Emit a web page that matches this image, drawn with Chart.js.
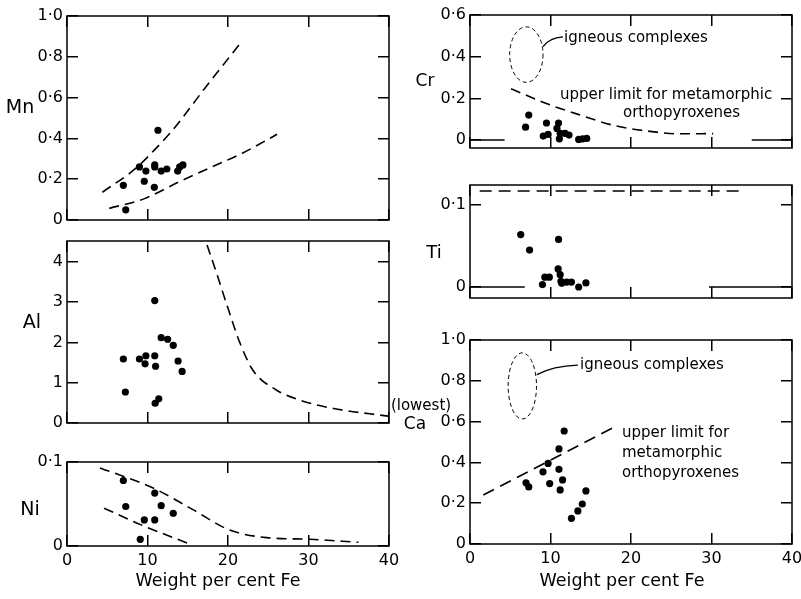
<!DOCTYPE html>
<html><head><meta charset="utf-8">
<script src="https://cdn.jsdelivr.net/npm/chart.js@4.4.1/dist/chart.umd.min.js"></script>
<style>
html,body{margin:0;padding:0;background:#fff;width:801px;height:599px;overflow:hidden;position:relative}
canvas{position:absolute}
</style></head><body>
<canvas id="cMn"></canvas>
<canvas id="cAl"></canvas>
<canvas id="cNi"></canvas>
<canvas id="cCr"></canvas>
<canvas id="cTi"></canvas>
<canvas id="cCa"></canvas>
<script>
// ---------- data ----------
const xTicks = [0, 10, 20, 30, 40];

const mnTicks = [0, 0.2, 0.4, 0.6, 0.8, 1.0];
const mnX = [7.0, 7.3, 9.0, 9.6, 9.8, 10.9, 10.9, 10.85, 11.3, 11.7, 12.4, 13.75, 14.0, 14.4];
const mnY = [0.17, 0.05, 0.26, 0.19, 0.24, 0.27, 0.26, 0.16, 0.44, 0.24, 0.25, 0.24, 0.26, 0.27];
const mnUpperX = [4.4, 8.6, 10.9, 13.0, 15.1, 17.1, 19.2, 21.5];
const mnUpperY = [0.136, 0.255, 0.345, 0.435, 0.54, 0.645, 0.75, 0.865];
const mnLowerX = [5.25, 9.7, 13.8, 18.0, 21.9, 26.1];
const mnLowerY = [0.057, 0.106, 0.185, 0.26, 0.33, 0.42];

const alTicks = [0, 1, 2, 3, 4];
const alX = [7.0, 7.25, 9.0, 9.8, 9.7, 10.9, 10.9, 11.0, 10.95, 11.4, 11.7, 12.5, 13.2, 13.8, 14.3];
const alY = [1.59, 0.77, 1.59, 1.67, 1.47, 3.04, 1.67, 1.41, 0.49, 0.6, 2.12, 2.08, 1.93, 1.54, 1.28];
const alCurveX = [17.4, 18.6, 19.8, 21.5, 23.1, 26.0, 28.9, 33.1, 39.9];
const alCurveY = [4.42, 3.71, 2.97, 1.98, 1.31, 0.82, 0.57, 0.36, 0.17];

const niTicks = [0, 0.1];
const niX = [7.0, 7.3, 9.1, 9.6, 10.9, 10.9, 11.7, 13.2];
const niY = [0.078, 0.047, 0.008, 0.031, 0.063, 0.031, 0.048, 0.039];
const niUpperX = [4.1, 10.7, 15.7, 20.2, 24.8, 30.2, 36.2];
const niUpperY = [0.093, 0.069, 0.043, 0.019, 0.010, 0.008, 0.0044];
const niLowerX = [4.6, 9.5, 15.1];
const niLowerY = [0.045, 0.024, 0.003];

const crTicks = [0, 0.2, 0.4, 0.6];
const crX = [6.9, 7.3, 9.1, 9.5, 9.7, 10.8, 11.0, 11.1, 11.2, 11.8, 12.3, 13.5, 14.0, 14.5];
const crY = [0.062, 0.12, 0.019, 0.082, 0.027, 0.056, 0.082, 0.006, 0.032, 0.032, 0.024, 0.003, 0.006, 0.008];
const crLimitX = [5.1, 9.5, 13.7, 17.8, 21.9, 26.1, 30.2];
const crLimitY = [0.246, 0.175, 0.12, 0.071, 0.044, 0.03, 0.031];
const crBaseLeftX = [0, 4.3];
const crBaseRightX = [35, 40];
const crBaseY = [0, 0];
const crIgneous = { x: 7.0, y: 0.41, rx: 2.07, ry: 0.133 };
const crLeader = [[9.07, 0.448], [9.8, 0.49], [11.55, 0.495]];

const tiTicks = [0, 0.1];
const tiX = [6.3, 7.4, 11.0, 10.95, 9.0, 9.3, 9.85, 11.2, 11.3, 11.4, 12.0, 12.6, 13.5, 14.4];
const tiY = [0.064, 0.045, 0.058, 0.022, 0.003, 0.012, 0.012, 0.015, 0.007, 0.0045, 0.006, 0.006, 0.0, 0.005];
const tiLimitX = [1.2, 34];
const tiLimitY = [0.117, 0.117];
const tiBaseLeftX = [0, 6.8];
const tiBaseRightX = [29.7, 40];
const tiBaseY = [0, 0];

const caTicks = [0, 0.2, 0.4, 0.6, 0.8, 1.0];
const caX = [6.96, 7.3, 9.07, 9.7, 9.9, 11.05, 11.05, 11.2, 11.5, 11.7, 12.6, 13.4, 13.95, 14.4];
const caY = [0.30, 0.28, 0.354, 0.395, 0.296, 0.466, 0.366, 0.265, 0.314, 0.554, 0.126, 0.162, 0.196, 0.26];
const caLimitX = [1.65, 18.0];
const caLimitY = [0.24, 0.575];
const caIgneous = { x: 6.5, y: 0.775, rx: 1.76, ry: 0.162 };
const caLeader = [[8.3, 0.83], [10.3, 0.873], [13.4, 0.877]];

// ---------- helpers ----------
const FONT = '"DejaVu Sans", "Liberation Sans", sans-serif';
const pts = (xs, ys) => xs.map((x, i) => ({ x: x, y: ys[i] }));
const fmt = v => (v === 0 ? '0' : v.toFixed(1).replace('.', '\u00b7'));
const fmtInt = v => String(v);
const TICK_IN = -11;

function dots(xs, ys) {
  return { data: pts(xs, ys), showLine: false, pointRadius: 3.6, pointHoverRadius: 3.6,
    backgroundColor: '#000', borderWidth: 0, pointStyle: 'circle' };
}
function dashed(xs, ys, dash) {
  return { data: pts(xs, ys), showLine: true, pointRadius: 0, borderColor: '#000',
    borderWidth: 1.6, borderDash: dash || [10, 6], fill: false, tension: 0.4,
    cubicInterpolationMode: 'monotone' };
}
function solid(xs, ys) {
  return { data: pts(xs, ys), showLine: true, pointRadius: 0, borderColor: '#000',
    borderWidth: 1.5, fill: false, tension: 0 };
}
function inwardGrid() {
  return { display: true, drawOnChartArea: false, drawTicks: true, tickLength: TICK_IN,
    color: '#000', tickColor: '#000', lineWidth: 1.5, tickWidth: 1.5 };
}

const framePlugin = {
  id: 'frame',
  afterDraw(chart, args, opts) {
    const ctx = chart.ctx;
    const xs = chart.scales.x, ys = chart.scales.y;
    const x0 = xs.getPixelForValue(xs.min), x1 = xs.getPixelForValue(xs.max);
    const y0 = ys.getPixelForValue(ys.max), y1 = ys.getPixelForValue(ys.min);
    ctx.save();
    ctx.strokeStyle = '#000'; ctx.fillStyle = '#000'; ctx.lineWidth = 1.5; ctx.setLineDash([]);
    ctx.beginPath();
    ctx.moveTo(x0, y0); ctx.lineTo(x1, y0); ctx.lineTo(x1, y1); ctx.lineTo(x0, y1); ctx.closePath();
    ctx.stroke();
    if (opts.ellipse) {
      const e = opts.ellipse;
      const cx = xs.getPixelForValue(e.x), cy = ys.getPixelForValue(e.y);
      const rx = Math.abs(xs.getPixelForValue(e.x + e.rx) - cx);
      const ry = Math.abs(ys.getPixelForValue(e.y + e.ry) - cy);
      ctx.lineWidth = 1;
      ctx.setLineDash([4, 3]);
      ctx.beginPath();
      ctx.ellipse(cx, cy, rx, ry, 0, 0, Math.PI * 2);
      ctx.stroke();
      ctx.setLineDash([]);
    }
    if (opts.leader) {
      const q = opts.leader.map(p => [xs.getPixelForValue(p[0]), ys.getPixelForValue(p[1])]);
      ctx.lineWidth = 1.4;
      ctx.beginPath();
      ctx.moveTo(q[0][0], q[0][1]);
      ctx.quadraticCurveTo(q[1][0], q[1][1], q[2][0], q[2][1]);
      ctx.stroke();
    }
    const ox = opts.ox || 0, oy = opts.oy || 0;
    (opts.texts || []).forEach(t => {
      ctx.font = (t.size || 15) + 'px ' + FONT;
      ctx.fillStyle = '#000';
      ctx.textAlign = t.align || 'left';
      ctx.textBaseline = 'middle';
      ctx.fillText(t.t, t.x - ox, t.y - oy);
    });
    ctx.restore();
  }
};
Chart.register(framePlugin);

// box: canvas rectangle on the page; area: plot rectangle on the page
function panel(id, box, area, yMin, yMax, yTicks, yFmt, datasets, showX, extra) {
  const cv = document.getElementById(id);
  cv.width = box.w; cv.height = box.h;
  cv.style.left = box.x + 'px'; cv.style.top = box.y + 'px';
  cv.style.width = box.w + 'px'; cv.style.height = box.h + 'px';
  const tickFont = { family: FONT, size: 16 };
  const ex = Object.assign({ ox: box.x, oy: box.y }, extra || {});
  const setX = s => { s.ticks = xTicks.map(v => ({ value: v })); };
  const setY = s => { s.ticks = yTicks.map(v => ({ value: v })); };
  return new Chart(cv, {
    type: 'scatter',
    data: { datasets: datasets },
    options: {
      responsive: false, animation: false, events: [],
      layout: { padding: { left: 0, top: area.t - box.y, right: box.x + box.w - area.r,
        bottom: showX ? box.y + box.h - area.b - 24 : box.y + box.h - area.b } },
      plugins: {
        legend: { display: false }, tooltip: { enabled: false },
        frame: ex
      },
      scales: {
        x: {
          type: 'linear', position: 'bottom', min: 0, max: 40, display: true,
          afterBuildTicks: setX,
          ticks: { display: showX, font: tickFont, color: '#000', padding: 5 - TICK_IN, maxRotation: 0, autoSkip: false, callback: fmtInt },
          grid: inwardGrid(), border: { display: false },
          afterFit: s => { s.height = showX ? 24 : 0; s.paddingLeft = 0; s.paddingRight = 0; }
        },
        x2: {
          type: 'linear', position: 'top', min: 0, max: 40, display: true,
          afterBuildTicks: setX,
          ticks: { display: false },
          grid: inwardGrid(), border: { display: false },
          afterFit: s => { s.height = 0; s.paddingLeft = 0; s.paddingRight = 0; }
        },
        y: {
          type: 'linear', position: 'left', min: yMin, max: yMax,
          afterBuildTicks: setY,
          ticks: { font: tickFont, color: '#000', padding: 4 - TICK_IN, callback: yFmt, autoSkip: false },
          grid: inwardGrid(), border: { display: false },
          afterFit: s => { s.width = area.l - box.x; s.paddingTop = 0; s.paddingBottom = 0; }
        },
        y2: {
          type: 'linear', position: 'right', min: yMin, max: yMax,
          afterBuildTicks: setY,
          ticks: { display: false },
          grid: inwardGrid(), border: { display: false },
          afterFit: s => { s.width = 0; s.paddingTop = 0; s.paddingBottom = 0; }
        }
      }
    }
  });
}

const LEFT = { l: 67, r: 389 };
const RIGHT = { l: 470, r: 792 };

panel('cMn', { x: 0, y: 0, w: 400, h: 230 }, { l: LEFT.l, r: LEFT.r, t: 16, b: 220 }, 0, 1.0, mnTicks, fmt,
  [dots(mnX, mnY), dashed(mnUpperX, mnUpperY), dashed(mnLowerX, mnLowerY)], false,
  { texts: [{ t: 'Mn', x: 20, y: 108, size: 19, align: 'center' }] });

panel('cAl', { x: 0, y: 230, w: 400, h: 202 }, { l: LEFT.l, r: LEFT.r, t: 241, b: 423 }, 0, 4.52, alTicks, fmtInt,
  [dots(alX, alY), dashed(alCurveX, alCurveY)], false,
  { texts: [{ t: 'Al', x: 32, y: 323, size: 19, align: 'center' }] });

panel('cNi', { x: 0, y: 440, w: 400, h: 159 }, { l: LEFT.l, r: LEFT.r, t: 462, b: 546 }, 0, 0.1, niTicks, fmt,
  [dots(niX, niY), dashed(niUpperX, niUpperY), dashed(niLowerX, niLowerY)], true,
  { texts: [{ t: 'Ni', x: 30, y: 510, size: 19, align: 'center' },
            { t: 'Weight per cent Fe', x: 218, y: 581, size: 17.5, align: 'center' }] });

panel('cCr', { x: 385, y: 0, w: 416, h: 160 }, { l: RIGHT.l, r: RIGHT.r, t: 15, b: 148 }, -0.038, 0.6, crTicks, fmt,
  [dots(crX, crY), dashed(crLimitX, crLimitY),
   solid(crBaseLeftX, crBaseY), solid(crBaseRightX, crBaseY)], false,
  { ellipse: crIgneous, leader: crLeader,
    texts: [{ t: 'Cr', x: 425, y: 82, size: 17, align: 'center' },
            { t: 'igneous complexes', x: 564, y: 38, size: 15 },
            { t: 'upper limit for metamorphic', x: 560, y: 95, size: 15 },
            { t: 'orthopyroxenes', x: 623, y: 113, size: 15 }] });

panel('cTi', { x: 385, y: 170, w: 416, h: 136 }, { l: RIGHT.l, r: RIGHT.r, t: 185, b: 298 }, -0.0134, 0.1244, tiTicks, fmt,
  [dots(tiX, tiY), dashed(tiLimitX, tiLimitY, [12, 7]),
   solid(tiBaseLeftX, tiBaseY), solid(tiBaseRightX, tiBaseY)], false,
  { texts: [{ t: 'Ti', x: 434, y: 253, size: 18, align: 'center' }] });

panel('cCa', { x: 385, y: 325, w: 416, h: 274 }, { l: RIGHT.l, r: RIGHT.r, t: 340, b: 544 }, 0, 1.0, caTicks, fmt,
  [dots(caX, caY), dashed(caLimitX, caLimitY, [12, 7])], true,
  { ellipse: caIgneous, leader: caLeader,
    texts: [{ t: '(lowest)', x: 421, y: 406, size: 15, align: 'center' },
            { t: 'Ca', x: 415, y: 425, size: 17, align: 'center' },
            { t: 'igneous complexes', x: 580, y: 365, size: 15 },
            { t: 'upper limit for', x: 622, y: 433, size: 15 },
            { t: 'metamorphic', x: 622, y: 453, size: 15 },
            { t: 'orthopyroxenes', x: 622, y: 473, size: 15 },
            { t: 'Weight per cent Fe', x: 622, y: 581, size: 17.5, align: 'center' }] });
</script>
</body></html>
